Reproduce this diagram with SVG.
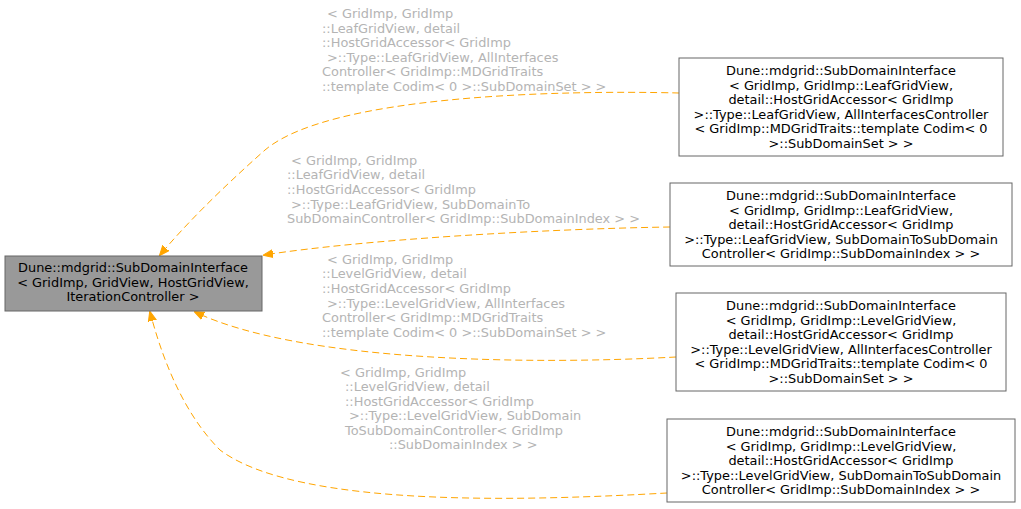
<svg xmlns="http://www.w3.org/2000/svg" width="1021" height="509" viewBox="0 0 1021 509">
<style>
text{font-family:"DejaVu Sans",sans-serif;font-size:12.9px}
.n{text-anchor:middle;fill:#000}
.l{fill:#b4b4b4}
.e{fill:none;stroke:#ffa500;stroke-dasharray:7,4}
.b{fill:#fff;stroke:#666}
</style>
<defs><marker id="a" viewBox="0 0 10 10" refX="9" refY="5" markerWidth="10" markerHeight="10" markerUnits="userSpaceOnUse" orient="auto"><path d="M0,1L10,5L0,9z" fill="#ffa500" stroke="#ffa500"/></marker></defs>
<rect width="1021" height="509" fill="#fff"/>
<g id="edges">
<path class="e" marker-end="url(#a)" d="M679,93 C560,90 330,95 265,150 C220,190 185,225 160,255"/>
<path class="e" marker-end="url(#a)" d="M670,227 C540,229 360,240 264,255"/>
<path class="e" marker-end="url(#a)" d="M676,357 C530,365 300,362 195,312"/>
<path class="e" marker-end="url(#a)" d="M667,493 C540,500 300,510 220,450 C180,410 160,350 150,312"/>
<text class="l"><tspan x="327" y="18">&lt; GridImp, GridImp</tspan><tspan x="322" y="33">::LeafGridView, detail</tspan><tspan x="322" y="47">::HostGridAccessor&lt; GridImp</tspan><tspan x="327" y="62">&gt;::Type::LeafGridView, AllInterfaces</tspan><tspan x="322" y="76">Controller&lt; GridImp::MDGridTraits</tspan><tspan x="322" y="91">::template Codim&lt; 0 &gt;::SubDomainSet &gt; &gt;</tspan></text>
<text class="l"><tspan x="291" y="165">&lt; GridImp, GridImp</tspan><tspan x="287" y="179">::LeafGridView, detail</tspan><tspan x="287" y="194">::HostGridAccessor&lt; GridImp</tspan><tspan x="291" y="209">&gt;::Type::LeafGridView, SubDomainTo</tspan><tspan x="287" y="223">SubDomainController&lt; GridImp::SubDomainIndex &gt; &gt;</tspan></text>
<text class="l"><tspan x="327" y="264">&lt; GridImp, GridImp</tspan><tspan x="322" y="278">::LevelGridView, detail</tspan><tspan x="322" y="293">::HostGridAccessor&lt; GridImp</tspan><tspan x="327" y="308">&gt;::Type::LevelGridView, AllInterfaces</tspan><tspan x="322" y="322">Controller&lt; GridImp::MDGridTraits</tspan><tspan x="322" y="337">::template Codim&lt; 0 &gt;::SubDomainSet &gt; &gt;</tspan></text>
<text class="l"><tspan x="340" y="377">&lt; GridImp, GridImp</tspan><tspan x="345" y="391">::LevelGridView, detail</tspan><tspan x="345" y="406">::HostGridAccessor&lt; GridImp</tspan><tspan x="349" y="420">&gt;::Type::LevelGridView, SubDomain</tspan><tspan x="345" y="435">ToSubDomainController&lt; GridImp</tspan><tspan x="389" y="449">::SubDomainIndex &gt; &gt;</tspan></text>
</g>
<g id="main"><rect x="5" y="256" width="257" height="55" fill="#999" stroke="#666"/>
<text class="n"><tspan x="133" y="272">Dune::mdgrid::SubDomainInterface</tspan><tspan x="133" y="287">&lt; GridImp, GridView, HostGridView,</tspan><tspan x="133" y="301">IterationController &gt;</tspan></text></g>
<g id="n1"><rect class="b" x="679" y="58" width="324" height="98"/>
<text class="n"><tspan x="841" y="75">Dune::mdgrid::SubDomainInterface</tspan><tspan x="841" y="90">&lt; GridImp, GridImp::LeafGridView,</tspan><tspan x="841" y="104">detail::HostGridAccessor&lt; GridImp</tspan><tspan x="841" y="119">&gt;::Type::LeafGridView, AllInterfacesController</tspan><tspan x="841" y="133">&lt; GridImp::MDGridTraits::template Codim&lt; 0</tspan><tspan x="841" y="148">&gt;::SubDomainSet &gt; &gt;</tspan></text></g>
<g id="n2"><rect class="b" x="670" y="183" width="342" height="83"/>
<text class="n"><tspan x="841" y="200">Dune::mdgrid::SubDomainInterface</tspan><tspan x="841" y="215">&lt; GridImp, GridImp::LeafGridView,</tspan><tspan x="841" y="229">detail::HostGridAccessor&lt; GridImp</tspan><tspan x="841" y="244">&gt;::Type::LeafGridView, SubDomainToSubDomain</tspan><tspan x="841" y="258">Controller&lt; GridImp::SubDomainIndex &gt; &gt;</tspan></text></g>
<g id="n3"><rect class="b" x="676" y="293" width="330" height="98"/>
<text class="n"><tspan x="841" y="310">Dune::mdgrid::SubDomainInterface</tspan><tspan x="841" y="325">&lt; GridImp, GridImp::LevelGridView,</tspan><tspan x="841" y="339">detail::HostGridAccessor&lt; GridImp</tspan><tspan x="841" y="354">&gt;::Type::LevelGridView, AllInterfacesController</tspan><tspan x="841" y="368">&lt; GridImp::MDGridTraits::template Codim&lt; 0</tspan><tspan x="841" y="383">&gt;::SubDomainSet &gt; &gt;</tspan></text></g>
<g id="n4"><rect class="b" x="667" y="419" width="348" height="83"/>
<text class="n"><tspan x="841" y="436">Dune::mdgrid::SubDomainInterface</tspan><tspan x="841" y="451">&lt; GridImp, GridImp::LevelGridView,</tspan><tspan x="841" y="465">detail::HostGridAccessor&lt; GridImp</tspan><tspan x="841" y="480">&gt;::Type::LevelGridView, SubDomainToSubDomain</tspan><tspan x="841" y="494">Controller&lt; GridImp::SubDomainIndex &gt; &gt;</tspan></text></g>
</svg>
